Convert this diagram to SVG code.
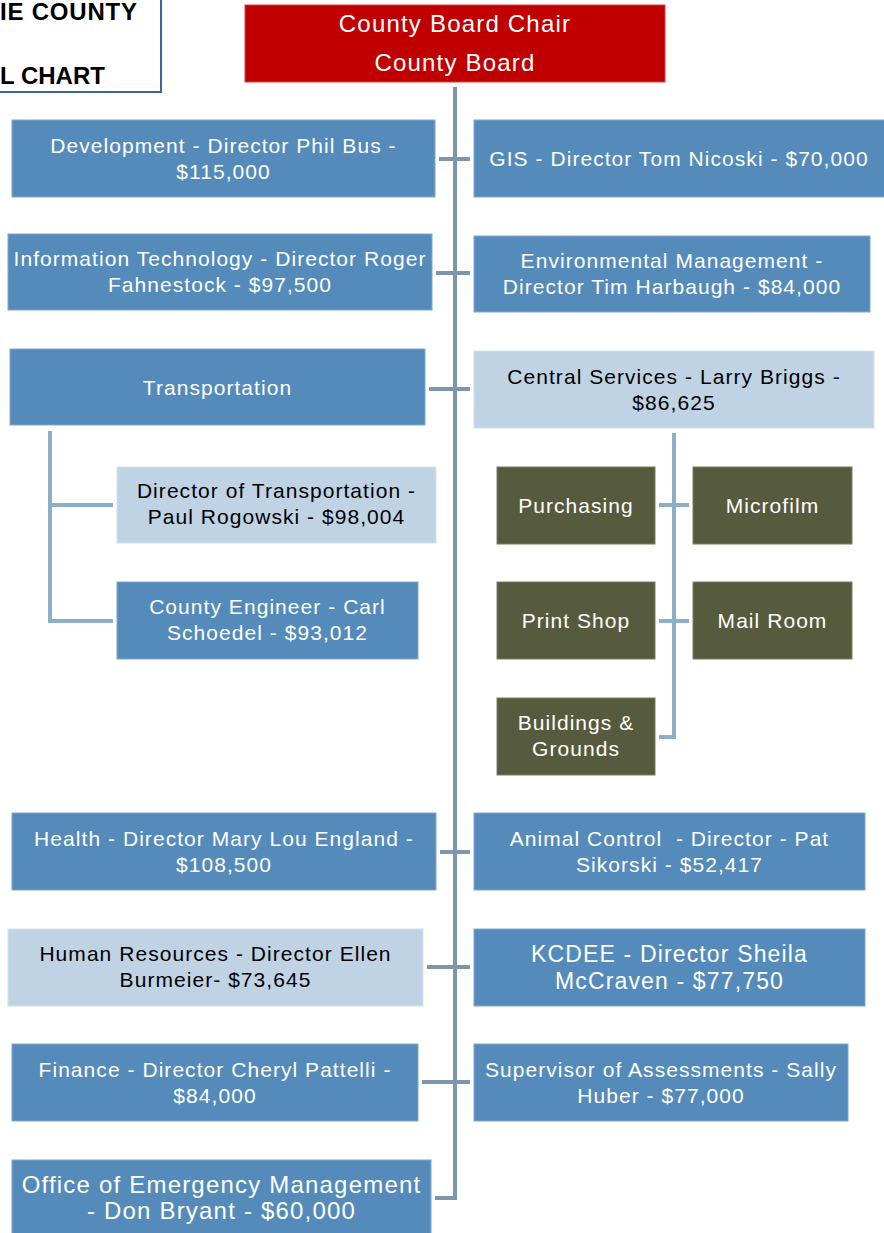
<svg xmlns="http://www.w3.org/2000/svg" width="884" height="1233" viewBox="0 0 884 1233">
<style>
.t{font-family:"Liberation Sans",Arial,sans-serif;font-size:21px;letter-spacing:0.05em;text-anchor:middle}
.w{fill:#ffffff}
.k{fill:#000000}
.big{font-size:24px}
.kc{font-size:23px}
.blue{fill:#558bbb;stroke:#7ea7cf;stroke-width:1}
.light{fill:#c0d3e5;stroke:#d3e1ee;stroke-width:1}
.green{fill:#575b3d;stroke:#7a7d63;stroke-width:1}
.main{fill:none;stroke:#7d96ae;stroke-width:4}
.sub{fill:none;stroke:#8eadc9;stroke-width:4}
.title{font-family:"Liberation Sans",Arial,sans-serif;font-weight:bold;font-size:24px;fill:#000}
</style>
<rect x="0" y="0" width="884" height="1233" fill="#ffffff"/>

<g id="title">
<rect x="-5" y="-5" width="166" height="97" fill="#ffffff" stroke="#3d6595" stroke-width="2"/>
<text class="title" x="0" y="20" textLength="137" lengthAdjust="spacing">IE COUNTY</text>
<text class="title" x="0" y="84">L CHART</text>
</g>

<g id="connectors">
<path class="main" d="M455,87 V1198 H435"/>
<line class="main" x1="439" y1="159" x2="470" y2="159"/>
<line class="main" x1="436" y1="273" x2="470" y2="273"/>
<line class="main" x1="429" y1="389" x2="470" y2="389"/>
<line class="main" x1="440" y1="852" x2="470" y2="852"/>
<line class="main" x1="427" y1="967" x2="470" y2="967"/>
<line class="main" x1="422" y1="1082" x2="470" y2="1082"/>
<path class="sub" d="M50,431 V621 H113"/>
<line class="sub" x1="50" y1="505" x2="113" y2="505"/>
<path class="sub" d="M674,433 V737 H659"/>
<line class="sub" x1="659" y1="505" x2="689" y2="505"/>
<line class="sub" x1="659" y1="621" x2="689" y2="621"/>
</g>

<g id="county-board">
<rect x="245" y="5" width="420" height="77" fill="#c00000" stroke="#d04040" stroke-width="1"/>
<text class="t w big" x="455" y="32">County Board Chair</text>
<text class="t w big" x="455" y="71">County Board</text>
</g>

<g id="development">
<rect class="blue" x="12" y="120" width="423" height="77"/>
<text class="t w" x="223.5" y="153">Development - Director Phil Bus -</text>
<text class="t w" x="223.5" y="179">$115,000</text>
</g>

<g id="gis">
<rect class="blue" x="474" y="120" width="412" height="77"/>
<text class="t w" x="679" y="166">GIS - Director Tom Nicoski - $70,000</text>
</g>

<g id="it">
<rect class="blue" x="8" y="234" width="424" height="76"/>
<text class="t w" x="220" y="266">Information Technology - Director Roger</text>
<text class="t w" x="220" y="292">Fahnestock - $97,500</text>
</g>

<g id="environmental">
<rect class="blue" x="474" y="236" width="396" height="76"/>
<text class="t w" x="672" y="268">Environmental Management -</text>
<text class="t w" x="672" y="294">Director Tim Harbaugh - $84,000</text>
</g>

<g id="transportation">
<rect class="blue" x="10" y="349" width="415" height="76"/>
<text class="t w" x="217.5" y="395">Transportation</text>
</g>

<g id="central-services">
<rect class="light" x="474" y="351" width="400" height="77"/>
<text class="t k" x="674" y="384">Central Services - Larry Briggs -</text>
<text class="t k" x="674" y="410">$86,625</text>
</g>

<g id="director-transportation">
<rect class="light" x="117" y="467" width="319" height="76"/>
<text class="t k" x="276.5" y="498">Director of Transportation -</text>
<text class="t k" x="276.5" y="524">Paul Rogowski - $98,004</text>
</g>

<g id="county-engineer">
<rect class="blue" x="117" y="582" width="301" height="77"/>
<text class="t w" x="267.5" y="614">County Engineer - Carl</text>
<text class="t w" x="267.5" y="640">Schoedel - $93,012</text>
</g>

<g id="purchasing">
<rect class="green" x="497" y="467" width="158" height="77"/>
<text class="t w" x="576" y="513">Purchasing</text>
</g>

<g id="microfilm">
<rect class="green" x="693" y="467" width="159" height="77"/>
<text class="t w" x="772.5" y="513">Microfilm</text>
</g>

<g id="print-shop">
<rect class="green" x="497" y="582" width="158" height="77"/>
<text class="t w" x="576" y="628">Print Shop</text>
</g>

<g id="mail-room">
<rect class="green" x="693" y="582" width="159" height="77"/>
<text class="t w" x="772.5" y="628">Mail Room</text>
</g>

<g id="buildings-grounds">
<rect class="green" x="497" y="698" width="158" height="77"/>
<text class="t w" x="576" y="730">Buildings &amp;</text>
<text class="t w" x="576" y="756">Grounds</text>
</g>

<g id="health">
<rect class="blue" x="12" y="813" width="424" height="77"/>
<text class="t w" x="224" y="846">Health - Director Mary Lou England -</text>
<text class="t w" x="224" y="872">$108,500</text>
</g>

<g id="animal-control">
<rect class="blue" x="474" y="813" width="391" height="77"/>
<text class="t w" x="669.5" y="846" xml:space="preserve">Animal Control  - Director - Pat</text>
<text class="t w" x="669.5" y="872">Sikorski - $52,417</text>
</g>

<g id="human-resources">
<rect class="light" x="8" y="929" width="415" height="77"/>
<text class="t k" x="215.5" y="961">Human Resources - Director Ellen</text>
<text class="t k" x="215.5" y="987">Burmeier- $73,645</text>
</g>

<g id="kcdee">
<rect class="blue" x="474" y="929" width="391" height="77"/>
<text class="t w kc" x="669.5" y="962">KCDEE - Director Sheila</text>
<text class="t w kc" x="669.5" y="989">McCraven - $77,750</text>
</g>

<g id="finance">
<rect class="blue" x="12" y="1044" width="406" height="77"/>
<text class="t w" x="215" y="1077">Finance - Director Cheryl Pattelli -</text>
<text class="t w" x="215" y="1103">$84,000</text>
</g>

<g id="assessments">
<rect class="blue" x="474" y="1044" width="374" height="77"/>
<text class="t w" x="661" y="1077">Supervisor of Assessments - Sally</text>
<text class="t w" x="661" y="1103">Huber - $77,000</text>
</g>

<g id="emergency-management">
<rect class="blue" x="12" y="1160" width="419" height="80"/>
<text class="t w big" x="221.5" y="1193">Office of Emergency Management</text>
<text class="t w big" x="221.5" y="1219">- Don Bryant - $60,000</text>
</g>
</svg>
